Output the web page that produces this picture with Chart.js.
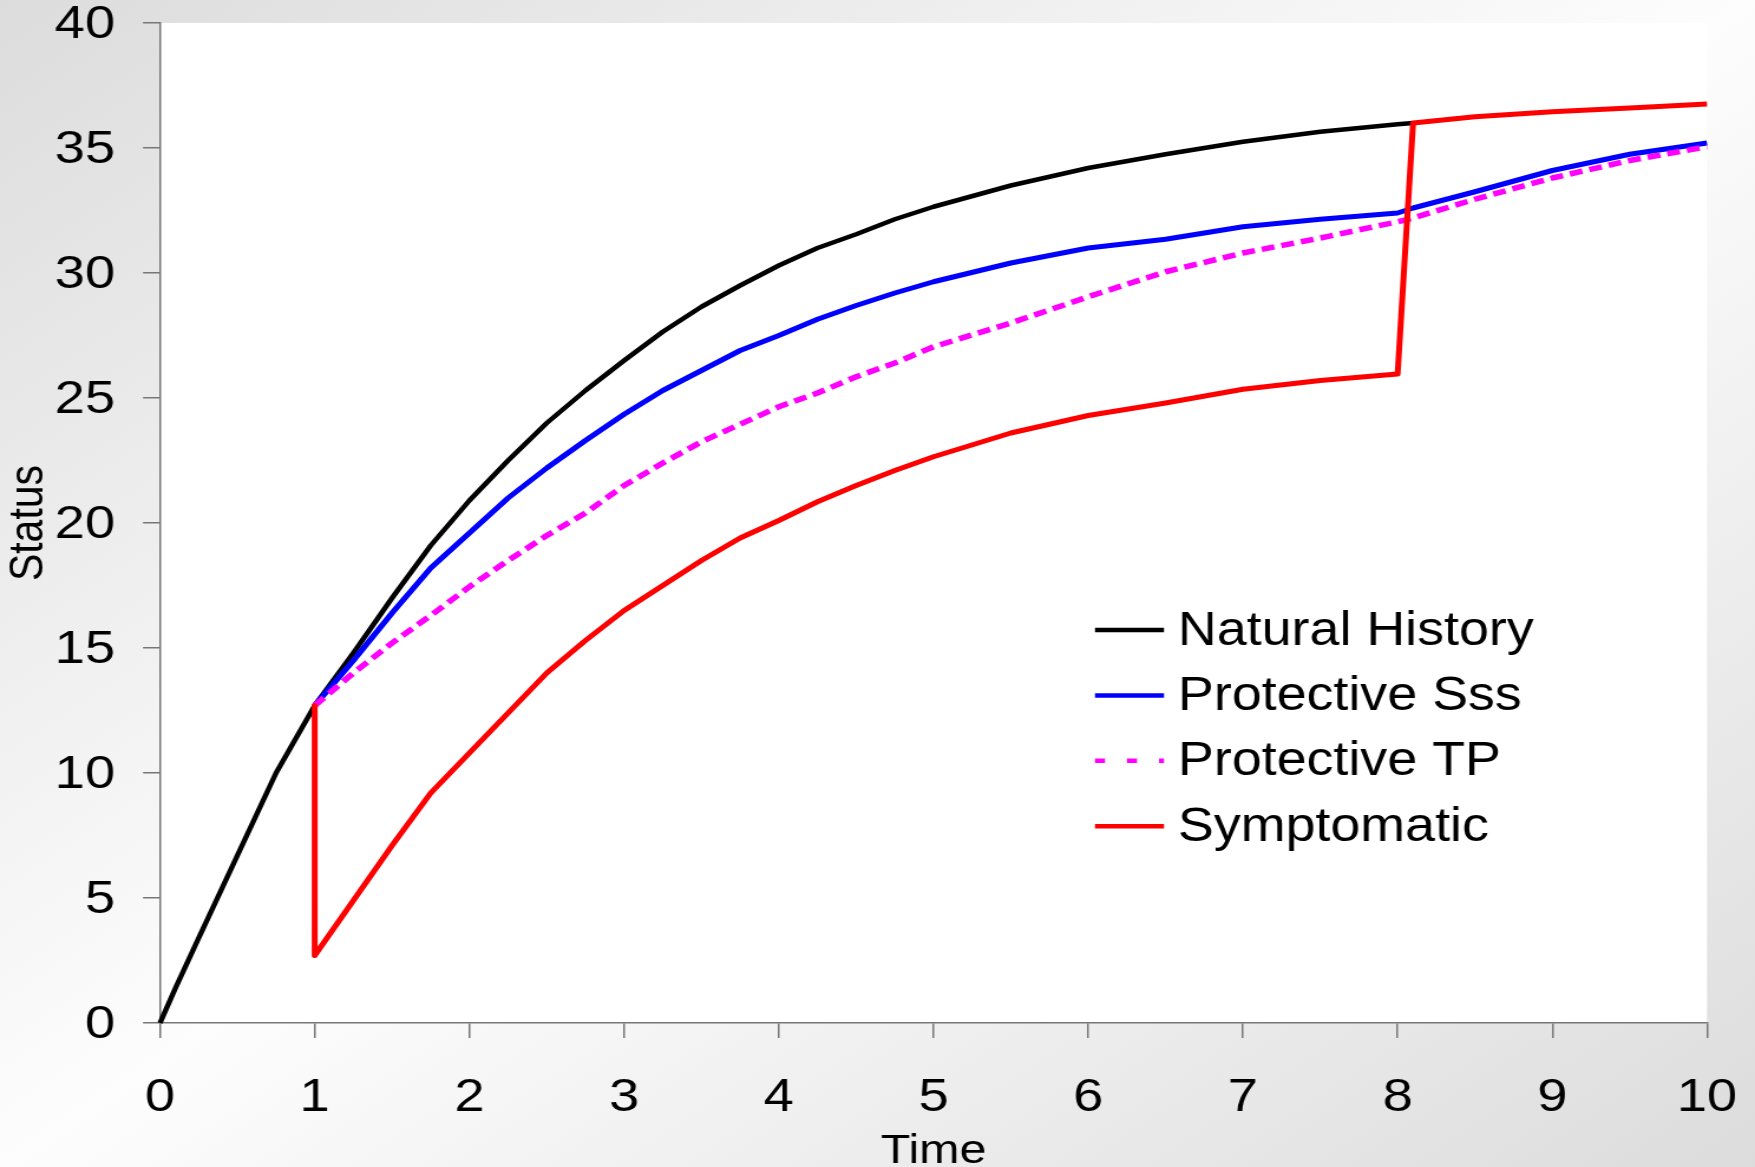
<!DOCTYPE html>
<html>
<head>
<meta charset="utf-8">
<script src="https://cdn.jsdelivr.net/npm/chart.js@4.4.0/dist/chart.umd.min.js"></script>
<style>
  html, body { margin: 0; padding: 0; }
  body {
    width: 1755px; height: 1167px; overflow: hidden;
    background: linear-gradient(to bottom right, #dcdcdc 0%, #fdfdfd 50%, #dcdcdc 100%);
  }
  canvas { display: block; }
</style>
</head>
<body>
<!-- the original picture is stretched sideways, so the canvas is drawn narrower and widened by CSS -->
<canvas id="myChart" width="1487" height="1167" style="width:1755px;height:1167px"></canvas>
<script>
// time points (1 is repeated for the vertical drop of Symptomatic)
const time = [0, 0.1, 0.25, 0.5, 0.75, 1, 1, 1.25, 1.5, 1.75, 2, 2.25, 2.5, 2.75, 3, 3.25, 3.5, 3.75,
  4, 4.25, 4.5, 4.75, 5, 5.5, 6, 6.5, 7, 7.5, 8, 8.1, 8.5, 9, 9.5, 10];

const naturalHistory = [0, 1.4, 3.4, 6.7, 10.0, 12.7, 12.7, 14.8, 17.0, 19.1, 20.9, 22.5, 24.0, 25.3,
  26.5, 27.65, 28.65, 29.5, 30.3, 31.0, 31.55, 32.15, 32.65, 33.5, 34.2, 34.75, 35.25, 35.65, 35.95, 36.0,
  null, null, null, null];

const protectiveSss = [null, null, null, null, null, 12.7, 12.7, 14.5, 16.4, 18.2, 19.6, 21.0, 22.2, 23.3,
  24.35, 25.3, 26.1, 26.9, 27.5, 28.15, 28.7, 29.2, 29.65, 30.4, 31.0, 31.35, 31.85, 32.15, 32.4, 32.6,
  33.25, 34.1, 34.75, 35.2];

const protectiveTP = [null, null, null, null, null, 12.7, 12.7, 14.0, 15.2, 16.3, 17.45, 18.5, 19.5, 20.4,
  21.5, 22.4, 23.25, 23.95, 24.65, 25.2, 25.85, 26.4, 27.05, 28.0, 29.05, 30.05, 30.8, 31.4, 32.05, 32.2,
  32.95, 33.8, 34.5, 35.05];

const symptomatic = [null, null, null, null, null, 12.7, 2.7, 4.9, 7.1, 9.2, 10.8, 12.4, 14.0, 15.3,
  16.5, 17.5, 18.5, 19.4, 20.1, 20.85, 21.5, 22.1, 22.65, 23.6, 24.3, 24.8, 25.35, 25.7, 25.96, 36.0,
  36.25, 36.45, 36.6, 36.76];

const xTicks = [0, 1, 2, 3, 4, 5, 6, 7, 8, 9, 10];
const yTicks = [0, 5, 10, 15, 20, 25, 30, 35, 40];

const FONT = "'Liberation Sans', Arial, sans-serif";
const S = 1755 / 1487; // horizontal stretch of the canvas

function points(values) {
  return time.map((t, i) => ({ x: t, y: values[i] }));
}

// white plot area on top of the grey page gradient
const plotBackground = {
  id: "plotBackground",
  beforeDraw(chart) {
    const { ctx, chartArea: a } = chart;
    ctx.save();
    ctx.fillStyle = "#ffffff";
    ctx.fillRect(a.left, a.top, a.right - a.left, a.bottom - a.top);
    ctx.restore();
  },
};

// legend sits inside the plot, drawn by hand
const insideLegend = {
  id: "insideLegend",
  afterDraw(chart) {
    const ctx = chart.ctx;
    const x0 = 1095 / S, x1 = 1164 / S, tx = 1178 / S, y0 = 630, step = 65.4;
    ctx.save();
    chart.data.datasets.forEach((ds, i) => {
      const y = y0 + i * step;
      ctx.beginPath();
      ctx.strokeStyle = ds.borderColor;
      ctx.lineWidth = 4.5;
      ctx.setLineDash(ds.borderDash && ds.borderDash.length ? [10 / S, 22 / S] : []);
      ctx.moveTo(x0, y);
      ctx.lineTo(x1, y);
      ctx.stroke();
      ctx.setLineDash([]);
      ctx.save();
      ctx.translate(tx, y + 1);
      ctx.scale(0.93, 1);
      ctx.fillStyle = "#000";
      ctx.font = "49px " + FONT;
      ctx.textBaseline = "middle";
      ctx.textAlign = "left";
      ctx.fillText(ds.label, 0, 0);
      ctx.restore();
    });
    ctx.restore();
  },
};

const axisColor = "#777777";

new Chart(document.getElementById("myChart"), {
  type: "line",
  data: {
    datasets: [
      { label: "Natural History", data: points(naturalHistory), borderColor: "#000000", borderWidth: 4.5, order: 3 },
      { label: "Protective Sss", data: points(protectiveSss), borderColor: "#0000ff", borderWidth: 5, order: 2 },
      { label: "Protective TP", data: points(protectiveTP), borderColor: "#ff00ff", borderWidth: 5.5, borderDash: [11, 6], order: 1 },
      { label: "Symptomatic", data: points(symptomatic), borderColor: "#ff0000", borderWidth: 5, order: 0 },
    ],
  },
  options: {
    responsive: false,
    animation: false,
    devicePixelRatio: 1,
    layout: { padding: { top: 23, right: 48 / S, left: 0, bottom: 0 } },
    elements: {
      point: { radius: 0, hoverRadius: 0 },
      line: { tension: 0, fill: false, borderCapStyle: "butt", borderJoinStyle: "round" },
    },
    datasets: { line: { clip: false, spanGaps: false } },
    plugins: {
      legend: { display: false },
      tooltip: { enabled: false },
    },
    scales: {
      x: {
        type: "linear",
        min: 0,
        max: 10,
        afterBuildTicks(s) { s.ticks = xTicks.map((v) => ({ value: v })); },
        ticks: {
          color: "#000",
          font: { family: FONT, size: 46, lineHeight: 1 },
          padding: 37,
          maxRotation: 0,
          autoSkip: false,
        },
        grid: { drawOnChartArea: false, drawTicks: true, tickLength: 15, color: axisColor, lineWidth: 1.5 },
        border: { display: true, color: axisColor, width: 1.5 },
        title: {
          display: true,
          text: "Time",
          color: "#000",
          font: { family: FONT, size: 41, lineHeight: 0.75 },
          padding: { top: 0, bottom: 0 },
        },
        afterFit(s) { s.height = 144; s.paddingLeft = 0; s.paddingRight = 0; },
      },
      y: {
        type: "linear",
        min: 0,
        max: 40,
        afterBuildTicks(s) { s.ticks = yTicks.map((v) => ({ value: v })); },
        ticks: {
          color: "#000",
          font: { family: FONT, size: 46, lineHeight: 1 },
          padding: 23.7,
          labelOffset: 2,
        },
        grid: { drawOnChartArea: false, drawTicks: true, tickLength: 17 / S, color: axisColor, lineWidth: 1.5 },
        border: { display: true, color: axisColor, width: 1.5 },
        title: {
          display: true,
          text: "Status",
          color: "#000",
          font: { family: FONT, size: 41, lineHeight: 1 },
          padding: { top: 4, bottom: 0 },
        },
        afterFit(s) { s.width = 160 / S; s.paddingTop = 0; s.paddingBottom = 0; },
      },
    },
  },
  plugins: [plotBackground, insideLegend],
});
</script>
</body>
</html>
